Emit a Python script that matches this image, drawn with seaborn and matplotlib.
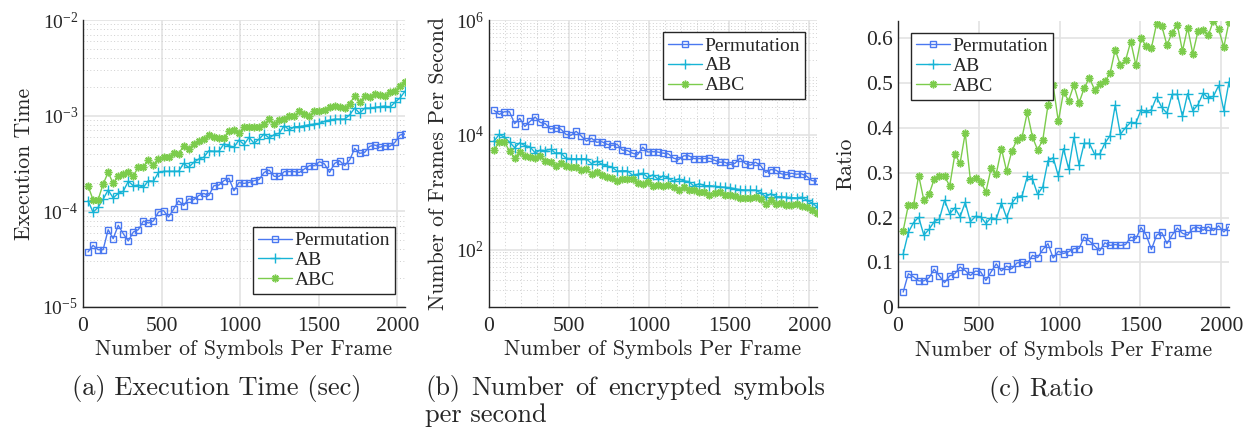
import numpy as np
import pandas as pd
import matplotlib
matplotlib.use("Agg")
import matplotlib.pyplot as plt
from matplotlib.ticker import LogLocator, MultipleLocator, NullFormatter, FixedLocator
import seaborn as sns

# Frame sizes (symbols per frame) used in the benchmark
symbols_per_frame = list(range(32, 2049, 32))

# Execution time per frame (seconds)
time_perm = [3.76e-5, 4.41e-5, 3.97e-5, 3.97e-5, 6.43e-5, 5.18e-5, 7.14e-5, 5.84e-5,
             4.90e-5, 6.08e-5, 6.43e-5, 7.92e-5, 7.55e-5, 7.92e-5, 9.84e-5, 1.02e-4,
             8.72e-5, 1.05e-4, 1.29e-4, 1.15e-4, 1.35e-4, 1.32e-4, 1.46e-4, 1.54e-4,
             1.46e-4, 1.85e-4, 1.88e-4, 2.09e-4, 2.22e-4, 1.64e-4, 2.00e-4, 1.96e-4,
             2.00e-4, 2.09e-4, 2.15e-4, 2.55e-4, 2.70e-4, 2.32e-4, 2.32e-4, 2.60e-4,
             2.60e-4, 2.60e-4, 2.55e-4, 2.77e-4, 3.00e-4, 3.00e-4, 3.30e-4, 3.13e-4,
             2.55e-4, 3.17e-4, 3.38e-4, 3.00e-4, 3.44e-4, 4.55e-4, 4.04e-4, 4.14e-4,
             4.78e-4, 4.94e-4, 4.67e-4, 4.86e-4, 4.78e-4, 5.26e-4, 6.28e-4, 6.43e-4]
time_ab = [1.29e-4, 9.80e-5, 1.10e-4, 1.34e-4, 1.67e-4, 1.38e-4, 1.54e-4, 1.62e-4,
           2.06e-4, 1.85e-4, 1.88e-4, 1.78e-4, 2.09e-4, 2.06e-4, 2.55e-4, 2.62e-4,
           2.62e-4, 2.62e-4, 2.62e-4, 3.17e-4, 2.88e-4, 3.25e-4, 3.52e-4, 3.67e-4,
           4.30e-4, 4.24e-4, 4.24e-4, 5.06e-4, 4.86e-4, 4.67e-4, 5.56e-4, 4.98e-4,
           5.94e-4, 5.14e-4, 5.70e-4, 6.43e-4, 5.85e-4, 6.33e-4, 6.54e-4, 7.86e-4,
           7.08e-4, 7.67e-4, 7.67e-4, 7.86e-4, 8.05e-4, 8.18e-4, 8.30e-4, 8.73e-4,
           9.00e-4, 9.20e-4, 9.20e-4, 9.20e-4, 1.02e-3, 1.20e-3, 1.06e-3, 1.20e-3,
           1.20e-3, 1.22e-3, 1.24e-3, 1.26e-3, 1.22e-3, 1.38e-3, 1.53e-3, 1.80e-3]
time_abc = [1.85e-4, 1.32e-4, 1.32e-4, 1.93e-4, 2.55e-4, 1.96e-4, 2.36e-4, 2.45e-4,
            2.55e-4, 2.36e-4, 2.88e-4, 2.94e-4, 3.44e-4, 3.08e-4, 3.52e-4, 3.67e-4,
            3.67e-4, 4.04e-4, 3.97e-4, 4.86e-4, 4.49e-4, 5.06e-4, 5.39e-4, 5.70e-4,
            6.28e-4, 5.94e-4, 5.85e-4, 5.85e-4, 6.97e-4, 7.08e-4, 6.54e-4, 7.67e-4,
            7.55e-4, 7.67e-4, 7.55e-4, 8.18e-4, 9.20e-4, 8.18e-4, 9.00e-4, 9.20e-4,
            1.00e-3, 1.00e-3, 1.11e-3, 1.04e-3, 1.00e-3, 1.11e-3, 1.13e-3, 1.15e-3,
            1.24e-3, 1.27e-3, 1.24e-3, 1.20e-3, 1.32e-3, 1.62e-3, 1.38e-3, 1.62e-3,
            1.55e-3, 1.68e-3, 1.66e-3, 1.62e-3, 1.75e-3, 1.80e-3, 2.06e-3, 2.26e-3]

# Frames encrypted per second
fps_perm = [26600, 22700, 25200, 25200, 15600, 19300, 14000, 17100,
            20400, 16400, 15600, 12600, 13200, 12600, 10200, 9800,
            11500, 9520, 7750, 8700, 7410, 7580, 6850, 6490,
            6850, 5410, 5320, 4780, 4500, 6100, 5000, 5100,
            5000, 4780, 4650, 3920, 3700, 4310, 4310, 3850,
            3850, 3850, 3920, 3610, 3330, 3330, 3030, 3190,
            3920, 3150, 2960, 3330, 2910, 2200, 2480, 2420,
            2090, 2020, 2140, 2060, 2090, 1900, 1590, 1560]
fps_ab = [7750, 10200, 9090, 7460, 5990, 7250, 6490, 6170,
          4850, 5410, 5320, 5620, 4780, 4850, 3920, 3820,
          3820, 3820, 3820, 3150, 3470, 3080, 2840, 2720,
          2330, 2360, 2360, 1980, 2060, 2140, 1800, 2010,
          1680, 1950, 1750, 1560, 1710, 1580, 1530, 1270,
          1410, 1300, 1300, 1270, 1240, 1220, 1200, 1150,
          1110, 1090, 1090, 1090, 980, 833, 943, 833,
          833, 820, 806, 794, 820, 725, 654, 556]
fps_abc = [5410, 7580, 7580, 5180, 3920, 5100, 4240, 4080,
           3920, 4240, 3470, 3400, 2910, 3250, 2840, 2720,
           2720, 2480, 2520, 2060, 2230, 1980, 1860, 1750,
           1590, 1680, 1710, 1710, 1430, 1410, 1530, 1300,
           1320, 1300, 1320, 1220, 1090, 1220, 1110, 1090,
           1000, 1000, 901, 962, 1000, 901, 885, 870,
           806, 787, 806, 833, 758, 617, 725, 617,
           645, 595, 602, 617, 571, 556, 485, 442]

# Ratio
ratio_perm = [0.034, 0.075, 0.068, 0.059, 0.059, 0.066, 0.085, 0.070,
              0.055, 0.070, 0.075, 0.090, 0.082, 0.071, 0.081, 0.079,
              0.060, 0.079, 0.097, 0.081, 0.092, 0.086, 0.099, 0.101,
              0.097, 0.116, 0.111, 0.129, 0.142, 0.110, 0.125, 0.120,
              0.124, 0.131, 0.131, 0.157, 0.148, 0.137, 0.126, 0.144,
              0.138, 0.140, 0.138, 0.140, 0.157, 0.153, 0.178, 0.161,
              0.129, 0.161, 0.167, 0.142, 0.161, 0.177, 0.165, 0.161,
              0.177, 0.178, 0.172, 0.180, 0.171, 0.182, 0.168, 0.180]
ratio_ab = [0.119, 0.167, 0.189, 0.201, 0.161, 0.174, 0.191, 0.197,
            0.239, 0.209, 0.222, 0.202, 0.234, 0.191, 0.203, 0.202,
            0.187, 0.200, 0.197, 0.233, 0.200, 0.232, 0.247, 0.249,
            0.292, 0.286, 0.252, 0.269, 0.327, 0.334, 0.293, 0.354,
            0.309, 0.379, 0.318, 0.366, 0.366, 0.342, 0.342, 0.366,
            0.383, 0.451, 0.386, 0.401, 0.413, 0.411, 0.441, 0.436,
            0.441, 0.469, 0.446, 0.433, 0.475, 0.475, 0.426, 0.477,
            0.439, 0.452, 0.478, 0.467, 0.471, 0.495, 0.439, 0.503]
ratio_abc = [0.171, 0.228, 0.228, 0.294, 0.239, 0.252, 0.286, 0.292,
             0.292, 0.271, 0.342, 0.321, 0.389, 0.284, 0.289, 0.279,
             0.258, 0.310, 0.298, 0.354, 0.304, 0.348, 0.374, 0.380,
             0.435, 0.380, 0.351, 0.374, 0.451, 0.495, 0.415, 0.480,
             0.461, 0.496, 0.456, 0.489, 0.512, 0.486, 0.499, 0.504,
             0.522, 0.575, 0.540, 0.551, 0.593, 0.540, 0.600, 0.583,
             0.579, 0.633, 0.628, 0.585, 0.613, 0.631, 0.572, 0.624,
             0.566, 0.616, 0.618, 0.607, 0.640, 0.620, 0.581, 0.637]

ratio_ticks = [0, 0.1, 0.2, 0.3, 0.4, 0.5, 0.6]
ratio_tick_labels = ["0", "0.1", "0.2", "0.3", "0.4", "0.5", "0.6"]

series_names = ["Permutation", "AB", "ABC"]
colors = {"Permutation": "#4a78f0", "AB": "#17b4d6", "ABC": "#7ccc4c"}
marker_styles = {
    "Permutation": dict(marker="s", markersize=4.2, markerfacecolor="none", markeredgewidth=1.0),
    "AB": dict(marker="+", markersize=6.5, markeredgewidth=1.0),
    "ABC": dict(marker=(8, 2, 0), markersize=5.5, markeredgewidth=1.1),
}

sns.set_style("white")
plt.rcParams["font.family"] = ["Liberation Serif", "DejaVu Serif"]
plt.rcParams["mathtext.fontset"] = "stix"
plt.rcParams["axes.unicode_minus"] = False

LABEL_FONT = ["cmr10", "DejaVu Serif"]
TICK_SIZE = 15.5
LOG_TICK_SIZE = 14
LABEL_SIZE = 15.7
CAP_SIZE = 19

fig = plt.figure(figsize=(12.46, 4.32), dpi=100)
W, H = 1246, 432


def add_axes(x0, x1, y0, y1):
    return fig.add_axes([x0 / W, 1 - y1 / H, (x1 - x0) / W, (y1 - y0) / H])


ax_a = add_axes(83, 405, 20, 307)
ax_b = add_axes(489, 817, 20, 307)
ax_c = add_axes(898, 1229, 20.5, 307.3)


def long_frame(values):
    rows = []
    for name, vals in zip(series_names, values):
        for x, v in zip(symbols_per_frame, vals):
            rows.append((x, v, name))
    return pd.DataFrame(rows, columns=["symbols", "value", "scheme"])


def draw_series(ax, df):
    for name in series_names:
        sub = df[df["scheme"] == name]
        sns.lineplot(data=sub, x="symbols", y="value", ax=ax, color=colors[name],
                     linewidth=1.0, label=name, estimator=None, sort=False,
                     markeredgecolor=colors[name], **marker_styles[name])


def style_axes(ax):
    for side in ("top", "right"):
        ax.spines[side].set_visible(False)
    for side in ("left", "bottom"):
        ax.spines[side].set_color("#262626")
        ax.spines[side].set_linewidth(1.0)
    ax.tick_params(axis="both", which="both", direction="in", labelsize=TICK_SIZE,
                   colors="#262626", length=4, width=0.8)
    ax.tick_params(axis="x", which="both", length=0, pad=7)
    ax.set_xlim(0, 2048)
    ax.xaxis.set_major_locator(FixedLocator([0, 500, 1000, 1500, 2000]))
    ax.grid(True, which="major", color="#e3e3e3", linewidth=1.2, linestyle="-")
    ax.set_axisbelow(True)
    ax.set_xlabel("Number of Symbols Per Frame", fontfamily=LABEL_FONT,
                  fontsize=LABEL_SIZE, labelpad=3)


def style_legend(ax, loc, anchor):
    leg = ax.legend(loc=loc, bbox_to_anchor=anchor, borderaxespad=0, fontsize=14,
                    frameon=True, fancybox=False, framealpha=1, edgecolor="#262626",
                    handlelength=1.75, handletextpad=0.15, labelspacing=0.12,
                    borderpad=0.25)
    leg.get_frame().set_linewidth(1.0)


# (a) execution time
draw_series(ax_a, long_frame([time_perm, time_ab, time_abc]))
ax_a.set_yscale("log")
ax_a.set_ylim(1e-5, 1e-2)
style_axes(ax_a)
ax_a.yaxis.set_major_locator(LogLocator(base=10, numticks=10))
ax_a.yaxis.set_minor_locator(LogLocator(base=10, subs=np.arange(2, 10), numticks=20))
ax_a.yaxis.set_minor_formatter(NullFormatter())
ax_a.tick_params(axis="y", labelsize=LOG_TICK_SIZE)
ax_a.grid(True, which="minor", axis="y", color="#cfcfcf", linewidth=0.7, linestyle=(0, (1, 2.5)))
ax_a.set_ylabel("Execution Time", fontfamily=LABEL_FONT, fontsize=LABEL_SIZE, labelpad=6)
style_legend(ax_a, "lower right", (0.969, 0.045))

# (b) frames per second
draw_series(ax_b, long_frame([fps_perm, fps_ab, fps_abc]))
ax_b.set_yscale("log")
ax_b.set_ylim(1e1, 1e6)
style_axes(ax_b)
ax_b.yaxis.set_major_locator(FixedLocator([1e2, 1e4, 1e6]))
ax_b.yaxis.set_minor_locator(LogLocator(base=10, subs=np.arange(1, 10), numticks=30))
ax_b.yaxis.set_minor_formatter(NullFormatter())
ax_b.tick_params(axis="y", labelsize=LOG_TICK_SIZE)
ax_b.xaxis.set_minor_locator(MultipleLocator(100))
ax_b.grid(True, which="minor", color="#cfcfcf", linewidth=0.7, linestyle=(0, (1, 2.5)))
ax_b.set_ylabel("Number of Frames Per Second", fontfamily=LABEL_FONT,
                fontsize=LABEL_SIZE, labelpad=6)
style_legend(ax_b, "upper right", (0.963, 0.958))

# (c) ratio
draw_series(ax_c, long_frame([ratio_perm, ratio_ab, ratio_abc]))
style_axes(ax_c)
ax_c.yaxis.set_major_locator(FixedLocator(ratio_ticks))
ax_c.set_yticklabels(ratio_tick_labels)
ax_c.set_ylim(0, 0.64)
ax_c.set_ylabel("Ratio", fontfamily=LABEL_FONT, fontsize=LABEL_SIZE, labelpad=8)
style_legend(ax_c, "upper left", (0.039, 0.957))

# Sub-figure captions
fig.text(217 / W, 1 - 395 / H, "(a) Execution Time (sec)", ha="center", va="baseline",
         fontfamily=LABEL_FONT, fontsize=CAP_SIZE)
fig.text(1041 / W, 1 - 396 / H, "(c) Ratio", ha="center", va="baseline",
         fontfamily=LABEL_FONT, fontsize=CAP_SIZE)

# Caption (b) wraps; its first line is justified between the two margins
cap_b_first_line = ["(b)", "Number", "of", "encrypted", "symbols"]
cap_left, cap_right = 425, 825
renderer = fig.canvas.get_renderer()
word_texts = [fig.text(0, 1 - 395 / H, w, ha="left", va="baseline",
                       fontfamily=LABEL_FONT, fontsize=CAP_SIZE) for w in cap_b_first_line]
widths = [t.get_window_extent(renderer).width for t in word_texts]
gap = (cap_right - cap_left - sum(widths)) / (len(widths) - 1)
xpos = cap_left
for t, w in zip(word_texts, widths):
    t.set_x(xpos / W)
    xpos += w + gap
fig.text(cap_left / W, 1 - 422 / H, "per second", ha="left", va="baseline",
         fontfamily=LABEL_FONT, fontsize=CAP_SIZE)

fig.savefig("out.png", dpi=100, facecolor="white")
